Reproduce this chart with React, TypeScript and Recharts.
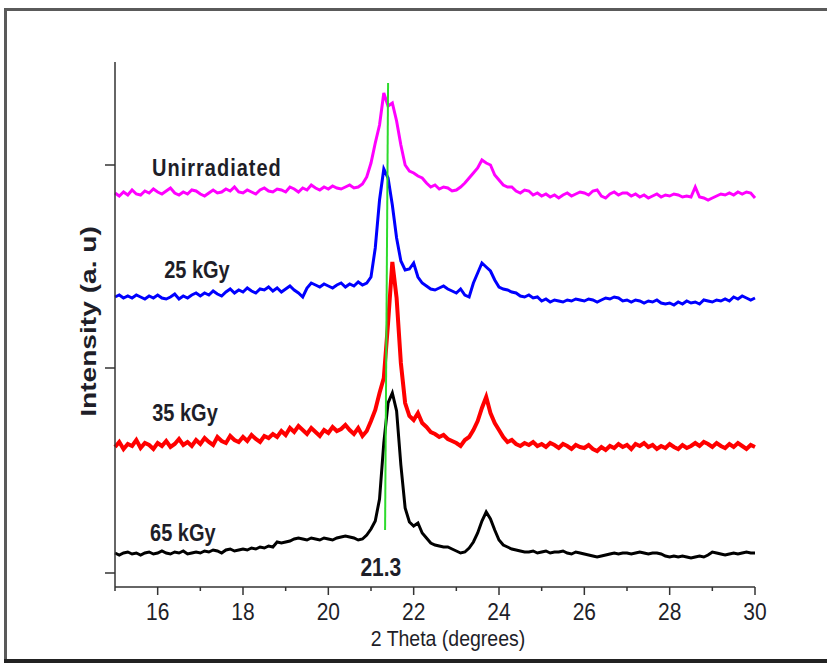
import { Label, Line, LineChart, ReferenceDot, ReferenceLine, XAxis, YAxis } from 'recharts';

// 2 theta grid (degrees)
const theta = [
  15.0, 15.1, 15.2, 15.3, 15.4, 15.5, 15.6, 15.7, 15.8, 15.9,
  16.0, 16.1, 16.2, 16.3, 16.4, 16.5, 16.6, 16.7, 16.8, 16.9,
  17.0, 17.1, 17.2, 17.3, 17.4, 17.5, 17.6, 17.7, 17.8, 17.9,
  18.0, 18.1, 18.2, 18.3, 18.4, 18.5, 18.6, 18.7, 18.8, 18.9,
  19.0, 19.1, 19.2, 19.3, 19.4, 19.5, 19.6, 19.7, 19.8, 19.9,
  20.0, 20.1, 20.2, 20.3, 20.4, 20.5, 20.6, 20.7, 20.8, 20.9,
  21.0, 21.1, 21.2, 21.3, 21.4, 21.5, 21.6, 21.7, 21.8, 21.9,
  22.0, 22.1, 22.2, 22.3, 22.4, 22.5, 22.6, 22.7, 22.8, 22.9,
  23.0, 23.1, 23.2, 23.3, 23.4, 23.5, 23.6, 23.7, 23.8, 23.9,
  24.0, 24.1, 24.2, 24.3, 24.4, 24.5, 24.6, 24.7, 24.8, 24.9,
  25.0, 25.1, 25.2, 25.3, 25.4, 25.5, 25.6, 25.7, 25.8, 25.9,
  26.0, 26.1, 26.2, 26.3, 26.4, 26.5, 26.6, 26.7, 26.8, 26.9,
  27.0, 27.1, 27.2, 27.3, 27.4, 27.5, 27.6, 27.7, 27.8, 27.9,
  28.0, 28.1, 28.2, 28.3, 28.4, 28.5, 28.6, 28.7, 28.8, 28.9,
  29.0, 29.1, 29.2, 29.3, 29.4, 29.5, 29.6, 29.7, 29.8, 29.9,
  30.0,
];

// intensities, offset stacked (a. u)
const unirradiated = [
  380, 377, 381, 378, 383, 379, 378, 382, 380, 384,
  381, 379, 382, 385, 380, 378, 381, 379, 383, 382,
  379, 377, 380, 383, 380, 381, 384, 382, 386, 381,
  380, 383, 381, 379, 383, 385, 382, 381, 384, 383,
  381, 386, 384, 381, 385, 383, 388, 385, 383, 386,
  384, 387, 385, 384, 386, 388, 385, 386, 389, 396,
  410, 430, 448, 480, 467, 470, 452, 428, 408, 402,
  400, 397, 395, 390, 386, 388, 384, 386, 385, 382,
  383, 386, 390, 395, 400, 405, 413, 410, 408, 398,
  393, 388, 386, 386, 382, 380, 383, 382, 378, 380,
  377, 379, 376, 378, 375, 378, 380, 377, 379, 381,
  380, 378, 382, 383, 377, 375, 379, 381, 378, 380,
  380, 377, 379, 376, 378, 375, 377, 379, 376, 378,
  377, 379, 378, 376, 377, 376, 386, 376, 375, 373,
  375, 377, 379, 378, 380, 378, 381, 379, 381, 380,
  375,
];

const kGy25 = [
  276, 278, 275, 277, 275, 278, 276, 274, 277, 275,
  278, 275, 274, 276, 279, 274, 277, 275, 278, 280,
  277, 280, 278, 282, 279, 277, 281, 284, 280, 283,
  281, 285, 282, 280, 284, 283, 286, 282, 285, 281,
  284, 287, 283, 280, 276, 285, 290, 288, 286, 289,
  287, 285, 288, 290, 286, 289, 287, 291, 288, 290,
  296, 325, 373, 404, 395, 368, 335, 312, 303, 304,
  310, 296, 290, 287, 284, 283, 285, 287, 284, 282,
  280, 284, 278, 276, 290, 300, 310, 306, 302, 293,
  286, 284, 283, 281, 280, 277, 276, 278, 275, 276,
  272, 274, 271, 273, 272, 271, 273, 272, 274, 273,
  272, 274, 273, 271, 273, 275, 274, 276, 275, 272,
  273, 271, 273, 272, 270, 272, 271, 273, 270, 269,
  270, 268, 271, 269, 272, 270, 271, 269, 273, 272,
  271, 273, 272, 274, 272, 276, 274, 277, 275, 273,
  275,
];

const kGy35 = [
  126, 131, 124, 129, 127, 133, 125, 130, 128, 124,
  130, 127, 132, 126, 129, 134, 128, 131, 127, 133,
  129, 135, 131, 128, 136, 132, 130, 137, 133, 131,
  136, 132, 138, 134, 131, 137, 135, 139, 136, 142,
  138, 145, 141, 147, 143, 139, 145, 141, 137, 143,
  140, 146, 142, 144, 148, 143, 139, 145, 137, 142,
  152, 163, 180, 195, 250, 311, 275, 210, 170, 157,
  153, 160, 150, 146, 141, 139, 136, 138, 134, 132,
  130, 127, 133, 136, 143, 152, 165, 176, 160, 150,
  143, 136, 131, 133, 129, 127, 130, 128, 131, 127,
  129, 126, 130, 128, 125, 129, 127, 124, 128, 126,
  125, 128, 124, 122, 126, 123, 127, 125, 129, 126,
  128, 124, 129, 127, 130, 126, 128, 124, 127, 125,
  129, 126, 124, 128, 125, 127, 130, 127, 131, 129,
  126, 130, 127, 125, 129, 126, 130, 127, 124, 128,
  126,
];

const kGy65 = [
  20, 18, 20, 21, 19, 20, 18, 20, 21, 19,
  20, 22, 20, 19, 21, 20, 22, 19, 20, 21,
  20, 22, 21, 23, 22, 20, 23, 24, 22, 23,
  24, 23, 25, 24, 26, 25, 27, 26, 31, 30,
  31, 32, 34, 35, 34, 33, 35, 34, 33, 35,
  34, 33, 35, 36, 37, 36, 35, 33, 34, 38,
  44, 52, 74, 130, 170, 180, 162, 108, 65, 51,
  47, 50, 40, 35, 30, 28, 27, 26, 26, 24,
  22, 20, 21, 25, 31, 40, 52, 61, 54, 43,
  33, 28, 26, 24, 23, 22, 21, 21, 22, 20,
  21, 22, 20, 21, 21, 22, 20, 19, 21, 20,
  19, 18, 17, 16, 17, 18, 19, 20, 19, 20,
  20, 19, 20, 21, 20, 19, 20, 20, 19, 17,
  16, 17, 16, 17, 16, 15, 16, 17, 16, 18,
  21, 20, 19, 18, 19, 20, 19, 20, 21, 20,
  20,
];

const xTicks = [15, 16, 17, 18, 19, 20, 21, 22, 23, 24, 25, 26, 27, 28, 29, 30];
const yTicks = [0, 205, 408];

const labelNames = ['Unirradiated', '25 kGy', '35 kGy', '65 kGy', '21.3'];
const labelTheta = [17.39, 16.92, 16.64, 16.59, 21.23];
const labelLevel = [405, 303, 160, 40, 6];

const data = theta.map((t, i) => ({
  theta: t,
  u: unirradiated[i],
  k25: kGy25[i],
  k35: kGy35[i],
  k65: kGy65[i],
}));

const FONT = 'Arial, "Liberation Sans", sans-serif';
const AXIS = '#333';
const TEXT = '#1e1e28';

const ThetaTick = (props: any) => {
  const { x, y, payload } = props;
  const v = payload.value;
  const major = v % 2 === 0;
  return (
    <g>
      <line x1={x} x2={x} y1={y} y2={y + (major ? 8 : 4)} stroke={AXIS} strokeWidth={1.5} />
      {major ? (
        <text
          transform={`translate(${x},${y + 33}) scale(1,1.15)`}
          textAnchor="middle"
          fontFamily={FONT}
          fontSize={21}
          fill={TEXT}
        >
          {v}
        </text>
      ) : null}
    </g>
  );
};

const NoLabel = () => <g />;

const XTitle = (props: any) => {
  const { x, y, width } = props.viewBox;
  return (
    <text
      transform={`translate(${x + width / 2 + 13},${y + 59}) scale(1,1.12)`}
      textAnchor="middle"
      fontFamily={FONT}
      fontSize={19.5}
      fill={TEXT}
    >
      2 Theta (degrees)
    </text>
  );
};

const YTitle = (props: any) => {
  const { x, y, height } = props.viewBox;
  return (
    <text
      transform={`translate(${x + 13},${y + height / 2 - 3}) rotate(-90) scale(1.28,1)`}
      textAnchor="middle"
      dominantBaseline="central"
      fontFamily={FONT}
      fontSize={22}
      fontWeight="bold"
      fill={TEXT}
    >
      Intensity (a. u)
    </text>
  );
};

const seriesText = (name: string) => (p: any) => (
  <text
    transform={`translate(${p.cx},${p.cy}) scale(1,1.2)`}
    textAnchor="middle"
    dominantBaseline="central"
    fontFamily={FONT}
    fontSize={name === '21.3' ? 21 : 20}
    fontWeight="bold"
    letterSpacing={name === 'Unirradiated' ? 1 : 0}
    fill={TEXT}
  >
    {name}
  </text>
);

const App = () => {
  return (
    <div style={{ position: 'absolute', left: 0, top: 0, width: 827, height: 666, background: '#fff' }}>
      <div style={{ position: 'absolute', left: 4, top: 8, width: 823, height: 3, background: '#5a5a5a' }} />
      <div style={{ position: 'absolute', left: 4, top: 8, width: 3, height: 654, background: '#5a5a5a' }} />
      <div style={{ position: 'absolute', left: 4, top: 659, width: 823, height: 4, background: '#222' }} />
      <LineChart
        width={827}
        height={666}
        data={data}
        margin={{ top: 62, right: 72, bottom: 9, left: 75 }}
      >
        <XAxis
          dataKey="theta"
          type="number"
          domain={[15, 30]}
          ticks={xTicks}
          interval={0}
          tickSize={0}
          tickMargin={0}
          tickLine={false}
          tick={<ThetaTick />}
          height={70}
          stroke={AXIS}
          strokeWidth={1.5}
          allowDecimals
        >
          <Label content={<XTitle />} />
        </XAxis>
        <YAxis
          type="number"
          domain={[-14, 511]}
          ticks={yTicks}
          interval={0}
          tick={<NoLabel />}
          tickLine={{ stroke: AXIS, strokeWidth: 1.5 }}
          tickSize={10}
          width={40}
          stroke={AXIS}
          strokeWidth={1.5}
        >
          <Label content={<YTitle />} />
        </YAxis>
        <Line dataKey="k65" stroke="#000000" strokeWidth={3} dot={false} activeDot={false} isAnimationActive={false} />
        <Line dataKey="k35" stroke="#ff0000" strokeWidth={4} dot={false} activeDot={false} isAnimationActive={false} />
        <Line dataKey="k25" stroke="#0000ff" strokeWidth={3} dot={false} activeDot={false} isAnimationActive={false} />
        <Line dataKey="u" stroke="#ff00ff" strokeWidth={3} dot={false} activeDot={false} isAnimationActive={false} />
        <ReferenceLine
          segment={[
            { x: 21.4, y: 490 },
            { x: 21.33, y: 43 },
          ]}
          stroke="#2edb2e"
          strokeWidth={2}
          zIndex={1000}
        />
        {labelNames.map((name, i) => (
          <ReferenceDot
            key={name}
            x={labelTheta[i]}
            y={labelLevel[i]}
            r={0}
            shape={seriesText(name)}
          />
        ))}
      </LineChart>
    </div>
  );
};

export default App;
